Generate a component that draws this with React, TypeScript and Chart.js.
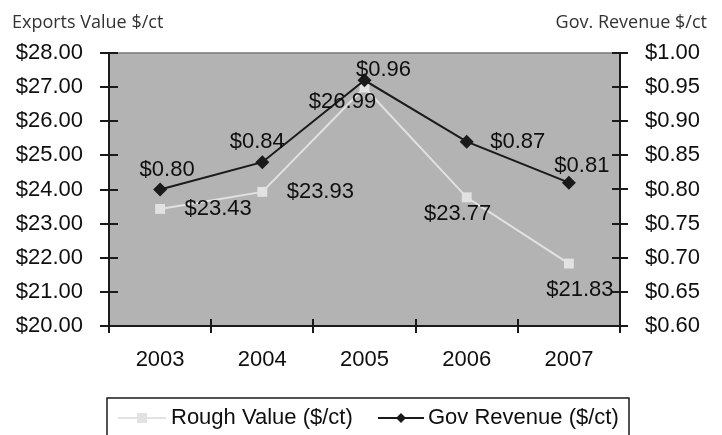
import React, { useEffect, useRef } from "react";
import { Chart, registerables } from "chart.js";

Chart.register(...registerables);

const years = ["2003", "2004", "2005", "2006", "2007"];
const roughValue = [23.43, 23.93, 26.99, 23.77, 21.83];
const govRevenue = [0.8, 0.84, 0.96, 0.87, 0.81];
const roughLabel = "Rough Value ($/ct)";
const govLabel = "Gov Revenue ($/ct)";
const leftTitle = "Exports Value $/ct";
const rightTitle = "Gov. Revenue $/ct";

// label placement offsets (layout only)
const govLabelOffsets = [[7, -20], [-5, -20], [19, -10], [51, 0], [13, -17]];
const roughLabelOffsets = [[58, 0], [58, 0], [-22, 14], [-9, 17], [11, 26]];

const FONT = "'Liberation Sans', Arial, sans-serif";
const TEXT = "#0f0f0f";

const decorPlugin = {
  id: "decor",
  beforeDraw(chart: any) {
    const { ctx, chartArea: a } = chart;
    ctx.save();
    ctx.fillStyle = "#ffffff";
    ctx.fillRect(0, 0, chart.width, chart.height);
    ctx.fillStyle = "#b3b3b3";
    ctx.fillRect(a.left, a.top, a.right - a.left, a.bottom - a.top);
    ctx.restore();
  },
  afterDatasetsDraw(chart: any) {
    const { ctx, chartArea: a } = chart;
    ctx.save();
    // top border
    ctx.strokeStyle = "#7a7a7a";
    ctx.lineWidth = 1.5;
    ctx.beginPath();
    ctx.moveTo(a.left, a.top);
    ctx.lineTo(a.right, a.top);
    ctx.stroke();
    ctx.strokeStyle = "#1a1a1a";
    ctx.lineWidth = 2;
    ctx.beginPath();
    // left axis
    ctx.moveTo(a.left, a.top);
    ctx.lineTo(a.left, a.bottom + 7);
    // right axis
    ctx.moveTo(a.right, a.top);
    ctx.lineTo(a.right, a.bottom + 7);
    // bottom axis
    ctx.moveTo(a.left - 8, a.bottom);
    ctx.lineTo(a.right + 8, a.bottom);
    const ys = chart.scales.y;
    ys.ticks.forEach((t: any) => {
      const py = Math.round(ys.getPixelForValue(t.value));
      ctx.moveTo(a.left - 9, py);
      ctx.lineTo(a.left + 9, py);
    });
    const y1 = chart.scales.y1;
    y1.ticks.forEach((t: any) => {
      const py = Math.round(y1.getPixelForValue(t.value));
      ctx.moveTo(a.right - 8, py);
      ctx.lineTo(a.right + 8, py);
    });
    const n = years.length;
    for (let i = 1; i < n; i++) {
      const px = Math.round(a.left + ((a.right - a.left) * i) / n);
      ctx.moveTo(px, a.bottom - 7);
      ctx.lineTo(px, a.bottom + 7);
    }
    ctx.stroke();

    // data labels
    ctx.fillStyle = TEXT;
    ctx.font = `22px ${FONT}`;
    ctx.textAlign = "center";
    ctx.textBaseline = "middle";
    const m0 = chart.getDatasetMeta(0);
    const m1 = chart.getDatasetMeta(1);
    m0.data.forEach((p: any, i: number) => {
      const o = roughLabelOffsets[i];
      ctx.fillText("$" + roughValue[i].toFixed(2), p.x + o[0], p.y + o[1]);
    });
    m1.data.forEach((p: any, i: number) => {
      const o = govLabelOffsets[i];
      ctx.fillText("$" + govRevenue[i].toFixed(2), p.x + o[0], p.y + o[1]);
    });

    // axis titles
    ctx.fillStyle = "#333333";
    ctx.font = `18px 'Open Sans', sans-serif`;
    ctx.textBaseline = "alphabetic";
    ctx.textAlign = "left";
    ctx.fillText(leftTitle, 12, 28);
    ctx.textAlign = "right";
    ctx.fillText(rightTitle, 707, 28);

    // legend
    const lx = 107, lt = 398, lr = 629;
    ctx.strokeStyle = "#1a1a1a";
    ctx.lineWidth = 1.5;
    ctx.strokeRect(lx, lt, lr - lx, 60);
    const ly = 418;
    ctx.strokeStyle = "#e2e2e2";
    ctx.lineWidth = 2;
    ctx.beginPath();
    ctx.moveTo(118, ly);
    ctx.lineTo(166, ly);
    ctx.stroke();
    ctx.fillStyle = "#e2e2e2";
    ctx.fillRect(137, ly - 5, 10, 10);
    ctx.fillStyle = TEXT;
    ctx.font = `22px ${FONT}`;
    ctx.textAlign = "left";
    ctx.textBaseline = "middle";
    ctx.fillText(roughLabel, 171, ly);
    ctx.strokeStyle = "#1a1a1a";
    ctx.beginPath();
    ctx.moveTo(378, ly);
    ctx.lineTo(424, ly);
    ctx.stroke();
    ctx.beginPath();
    ctx.moveTo(401, ly - 5);
    ctx.lineTo(406, ly);
    ctx.lineTo(401, ly + 5);
    ctx.lineTo(396, ly);
    ctx.closePath();
    ctx.fillStyle = "#1a1a1a";
    ctx.fill();
    ctx.fillStyle = TEXT;
    ctx.fillText(govLabel, 428, ly);
    ctx.restore();
  },
};

export default function App() {
  const ref = useRef<HTMLCanvasElement>(null);
  useEffect(() => {
    if (!ref.current) return;
    const chart = new Chart(ref.current, {
      type: "line",
      data: {
        labels: years,
        datasets: [
          {
            label: roughLabel,
            data: roughValue,
            yAxisID: "y",
            borderColor: "#e2e2e2",
            backgroundColor: "#e2e2e2",
            borderWidth: 2,
            pointStyle: "rect",
            pointRadius: 7,
            pointBorderWidth: 0,
            order: 1,
          },
          {
            label: govLabel,
            data: govRevenue,
            yAxisID: "y1",
            borderColor: "#1a1a1a",
            backgroundColor: "#1a1a1a",
            borderWidth: 2,
            pointStyle: "rectRot",
            pointRadius: 7,
            pointBorderWidth: 0,
            order: 0,
          },
        ],
      },
      options: {
        responsive: false,
        animation: false,
        layout: { padding: { top: 53, left: 0, right: 0, bottom: 0 } },
        plugins: { legend: { display: false }, tooltip: { enabled: false } },
        scales: {
          x: {
            offset: true,
            grid: { display: false, drawTicks: false },
            border: { display: false },
            ticks: {
              color: TEXT,
              font: { family: FONT, size: 22 },
              padding: 21,
            },
            afterFit: (s: any) => {
              s.height = 109;
            },
          },
          y: {
            position: "left",
            min: 20,
            max: 28,
            grid: { display: false, drawTicks: false },
            border: { display: false },
            ticks: {
              stepSize: 1,
              color: TEXT,
              font: { family: FONT, size: 22 },
              padding: 26,
              callback: (v: any) => "$" + Number(v).toFixed(2),
            },
            afterFit: (s: any) => {
              s.width = 109;
            },
          },
          y1: {
            position: "right",
            min: 0.6,
            max: 1.0,
            grid: { display: false, drawTicks: false },
            border: { display: false },
            ticks: {
              stepSize: 0.05,
              color: TEXT,
              font: { family: FONT, size: 22 },
              padding: 25,
              callback: (v: any) => "$" + Number(v).toFixed(2),
            },
            afterFit: (s: any) => {
              s.width = 102;
            },
          },
        },
      },
      plugins: [decorPlugin],
    });
    return () => chart.destroy();
  }, []);
  return (
    <div style={{ position: "fixed", left: 0, top: 0, width: 722, height: 435 }}>
      <canvas ref={ref} width={722} height={435} />
    </div>
  );
}
